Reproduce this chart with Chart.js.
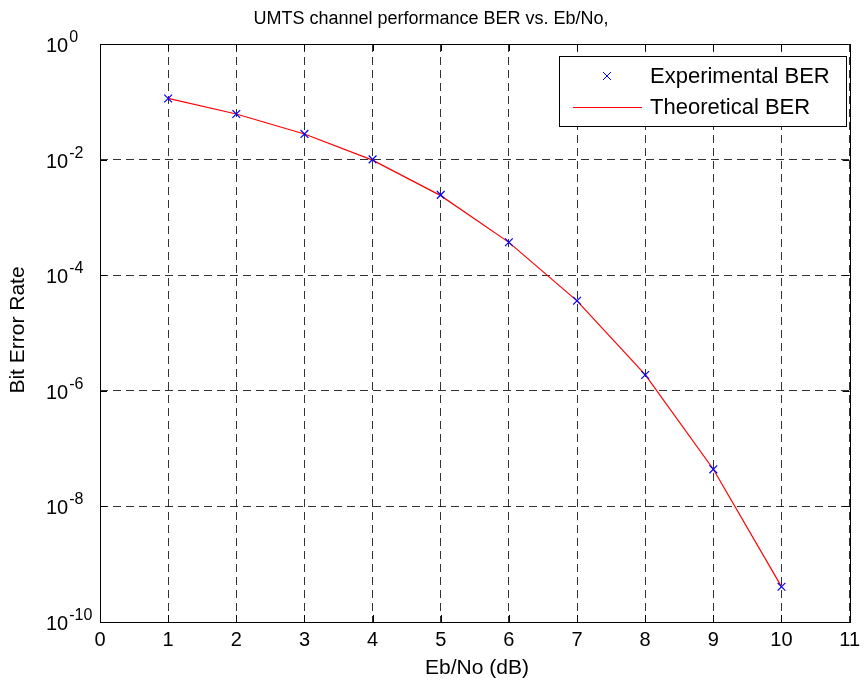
<!DOCTYPE html>
<html>
<head>
<meta charset="utf-8">
<script src="https://cdn.jsdelivr.net/npm/chart.js@4.4.1/dist/chart.umd.min.js"></script>
<style>
  html, body { margin: 0; padding: 0; background: #fff; }
  #wrap { width: 866px; height: 680px; }
</style>
</head>
<body>
<div id="wrap"><canvas id="berChart" width="866" height="680"></canvas></div>
<script>
// values
const ebNo = [1, 2, 3, 4, 5, 6, 7, 8, 9, 10];
const berExperimental = [0.114, 0.0615, 0.0278, 0.0101, 0.00245, 3.72e-4, 3.62e-5, 1.88e-6, 4.38e-8, 4.08e-10];
const berTheoretical  = [0.115, 0.0615, 0.0277, 0.0098, 0.00238, 3.70e-4, 3.60e-5, 1.90e-6, 4.40e-8, 4.10e-10];
const yTickValues = [1e-10, 1e-8, 1e-6, 1e-4, 1e-2, 1];
const yTickExponents = ['-10', '-8', '-6', '-4', '-2', '0'];
const xRange = [0, 11];

const FONT = '"Liberation Sans", Arial, sans-serif';
const GRID = 'rgba(0,0,0,0.8)';

// matlab-like frame: box, inward ticks, legend, labels
const matlabFrame = {
  id: 'matlabFrame',
  beforeDraw(chart) {
    const ctx = chart.ctx;
    ctx.save();
    ctx.fillStyle = '#fff';
    ctx.fillRect(0, 0, chart.width, chart.height);
    ctx.restore();
  },
  afterDraw(chart) {
    const { ctx, chartArea: a, scales } = chart;
    const xs = scales.x, ys = scales.y;
    ctx.save();

    // inward tick marks
    ctx.strokeStyle = '#000';
    ctx.lineWidth = 1;
    ctx.beginPath();
    for (let v = xRange[0]; v <= xRange[1]; v++) {
      const px = Math.round(xs.getPixelForValue(v)) + 0.5;
      ctx.moveTo(px, a.bottom); ctx.lineTo(px, a.bottom - 7);
      ctx.moveTo(px, a.top); ctx.lineTo(px, a.top + 7);
    }
    yTickValues.forEach(v => {
      const py = Math.round(ys.getPixelForValue(v)) + 0.5;
      ctx.moveTo(a.left, py); ctx.lineTo(a.left + 7, py);
      ctx.moveTo(a.right, py); ctx.lineTo(a.right - 7, py);
    });
    ctx.stroke();

    // axes box
    ctx.strokeRect(Math.round(a.left) + 0.5, Math.round(a.top) + 0.5,
                   Math.round(a.right - a.left), Math.round(a.bottom - a.top));

    // y tick labels with superscript exponent
    ctx.fillStyle = '#000';
    ctx.textBaseline = 'alphabetic';
    ctx.textAlign = 'left';
    yTickValues.forEach((v, i) => {
      const py = ys.getPixelForValue(v);
      ctx.font = '20px ' + FONT;
      ctx.fillText('10', 46, py + 8);
      const w = ctx.measureText('10').width;
      ctx.font = '16px ' + FONT;
      ctx.fillText(yTickExponents[i], 46 + w + 1, py - 2);
    });

    // legend
    const lx = 559.5, ly = 56.5, lw = 287, lh = 70;
    ctx.fillStyle = '#fff';
    ctx.fillRect(lx, ly, lw, lh);
    ctx.strokeStyle = '#000';
    ctx.strokeRect(lx, ly, lw, lh);
    ctx.strokeStyle = '#0000ff';
    ctx.beginPath();
    ctx.moveTo(603, 72); ctx.lineTo(611, 80);
    ctx.moveTo(611, 72); ctx.lineTo(603, 80);
    ctx.stroke();
    ctx.strokeStyle = '#ff0000';
    ctx.beginPath();
    ctx.moveTo(573, 107.5); ctx.lineTo(642, 107.5);
    ctx.stroke();
    ctx.fillStyle = '#000';
    ctx.font = '22px ' + FONT;
    ctx.textBaseline = 'middle';
    ctx.fillText('Experimental BER', 650, 77);
    ctx.fillText('Theoretical BER', 650, 108);

    // title
    ctx.textAlign = 'center';
    ctx.font = '18px ' + FONT;
    ctx.fillText('UMTS channel performance BER vs. Eb/No,', 431, 19);

    // axis labels
    ctx.font = '21px ' + FONT;
    ctx.fillText('Eb/No (dB)', 477, 668);
    ctx.translate(18, 330);
    ctx.rotate(-Math.PI / 2);
    ctx.fillText('Bit Error Rate', 0, 0);

    ctx.restore();
  }
};

new Chart(document.getElementById('berChart'), {
  type: 'line',
  data: {
    datasets: [
      {
        label: 'Experimental BER',
        data: ebNo.map((x, i) => ({ x, y: berExperimental[i] })),
        showLine: false,
        pointStyle: 'crossRot',
        pointRadius: 5.5,
        pointBorderWidth: 1.2,
        pointBorderColor: '#0000ff',
        pointBackgroundColor: '#0000ff',
        order: 0
      },
      {
        label: 'Theoretical BER',
        data: ebNo.map((x, i) => ({ x, y: berTheoretical[i] })),
        borderColor: '#ff0000',
        borderWidth: 1.2,
        pointRadius: 0,
        tension: 0,
        order: 1
      }
    ]
  },
  options: {
    responsive: false,
    animation: false,
    layout: { padding: { top: 44, right: 10, left: 0, bottom: 0 } },
    plugins: {
      legend: { display: false },
      tooltip: { enabled: false },
      title: { display: false }
    },
    scales: {
      x: {
        type: 'linear',
        min: xRange[0],
        max: xRange[1],
        ticks: {
          stepSize: 1,
          color: '#000',
          font: { family: FONT, size: 20 },
          padding: 6,
          maxRotation: 0
        },
        grid: { color: GRID, lineWidth: 1, drawTicks: false },
        border: { display: false, dash: [8, 5] },
        afterFit(scale) { scale.height = 58; }
      },
      y: {
        type: 'logarithmic',
        min: yTickValues[0],
        max: yTickValues[yTickValues.length - 1],
        afterBuildTicks(scale) {
          scale.ticks = yTickValues.map(v => ({ value: v }));
        },
        ticks: { display: false },
        grid: { color: GRID, lineWidth: 1, drawTicks: false },
        border: { display: false, dash: [8, 5] },
        afterFit(scale) { scale.width = 100; }
      }
    }
  },
  plugins: [matlabFrame]
});
</script>
</body>
</html>
